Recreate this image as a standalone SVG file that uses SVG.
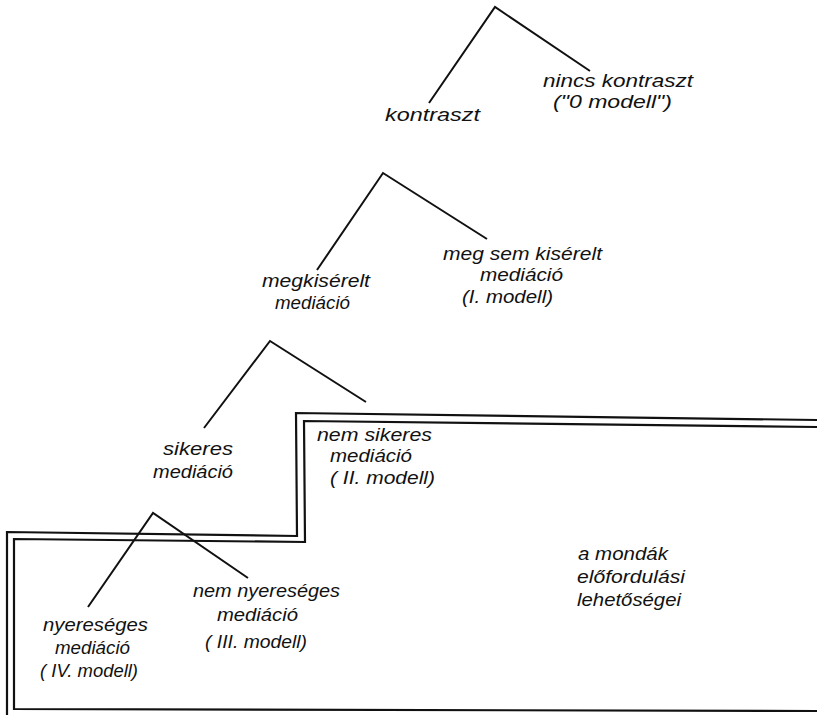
<svg xmlns="http://www.w3.org/2000/svg" width="817" height="715" viewBox="0 0 817 715">
<style>
.t{font-family:"Liberation Sans","DejaVu Sans",sans-serif;font-style:italic;font-size:19px;fill:#111;}
.l{stroke:#111;stroke-width:2;fill:none;}
.f{stroke:#111;stroke-width:2.2;fill:none;}
</style>
<rect width="817" height="715" fill="#fff"/>
<g id="frame">
<polyline class="f" points="817,420 296,413 297,536 7,532 7,715"/>
<polyline class="f" points="817,427 304,421 305,542 14,539 14,709 817,711"/>
</g>
<g id="connectors">
<polyline class="l" points="429,103 495,7 590,71"/>
<polyline class="l" points="317,270 383,173 487,239"/>
<polyline class="l" points="204,428 270,341 366,402"/>
<polyline class="l" points="88,607 153,513 248,578"/>
</g>
<g id="n-kontraszt"><text class="t" x="385" y="121" textLength="95" lengthAdjust="spacingAndGlyphs">kontraszt</text></g>
<g id="n-nincs">
<text class="t" x="543" y="87" textLength="150" lengthAdjust="spacingAndGlyphs">nincs kontraszt</text>
<text class="t" x="553" y="108" textLength="119" lengthAdjust="spacingAndGlyphs">("0 modell")</text>
</g>
<g id="n-megkiserelt">
<text class="t" x="262" y="287" textLength="108" lengthAdjust="spacingAndGlyphs">megkisérelt</text>
<text class="t" x="275" y="309" textLength="75" lengthAdjust="spacingAndGlyphs">mediáció</text>
</g>
<g id="n-megsem">
<text class="t" x="443" y="260" textLength="159" lengthAdjust="spacingAndGlyphs">meg sem kisérelt</text>
<text class="t" x="480" y="281" textLength="83" lengthAdjust="spacingAndGlyphs">mediáció</text>
<text class="t" x="462" y="303" textLength="91" lengthAdjust="spacingAndGlyphs">(I. modell)</text>
</g>
<g id="n-sikeres">
<text class="t" x="163" y="455" textLength="70" lengthAdjust="spacingAndGlyphs">sikeres</text>
<text class="t" x="153" y="478" textLength="80" lengthAdjust="spacingAndGlyphs">mediáció</text>
</g>
<g id="n-nemsikeres">
<text class="t" x="317" y="441" textLength="115" lengthAdjust="spacingAndGlyphs">nem sikeres</text>
<text class="t" x="330" y="462" textLength="82" lengthAdjust="spacingAndGlyphs">mediáció</text>
<text class="t" x="330" y="484" textLength="105" lengthAdjust="spacingAndGlyphs">( II. modell)</text>
</g>
<g id="n-nyereseges">
<text class="t" x="43" y="631" textLength="105" lengthAdjust="spacingAndGlyphs">nyereséges</text>
<text class="t" x="55" y="654" textLength="75" lengthAdjust="spacingAndGlyphs">mediáció</text>
<text class="t" x="40" y="677" textLength="98" lengthAdjust="spacingAndGlyphs">( IV. modell)</text>
</g>
<g id="n-nemnyereseges">
<text class="t" x="193" y="597" textLength="147" lengthAdjust="spacingAndGlyphs">nem nyereséges</text>
<text class="t" x="217" y="621" textLength="81" lengthAdjust="spacingAndGlyphs">mediáció</text>
<text class="t" x="205" y="648" textLength="102" lengthAdjust="spacingAndGlyphs">( III. modell)</text>
</g>
<g id="n-mondak">
<text class="t" x="578" y="560" textLength="90" lengthAdjust="spacingAndGlyphs">a mondák</text>
<text class="t" x="577" y="583" textLength="108" lengthAdjust="spacingAndGlyphs">előfordulási</text>
<text class="t" x="577" y="606" textLength="104" lengthAdjust="spacingAndGlyphs">lehetőségei</text>
</g>
</svg>
